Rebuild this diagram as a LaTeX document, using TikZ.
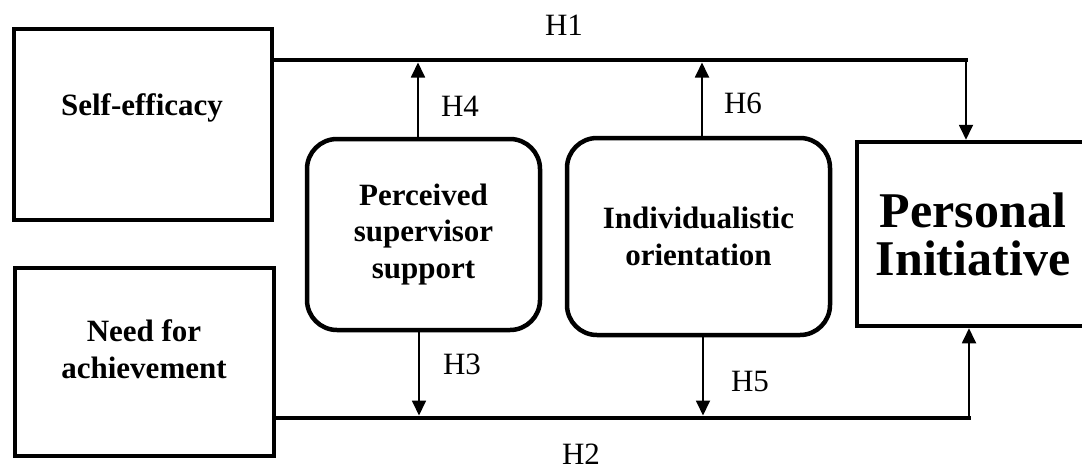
\documentclass[tikz,border=0pt]{standalone}
\usepackage{fontspec}
\setmainfont{Liberation Serif}
\usetikzlibrary{arrows.meta,calc}
\begin{document}
\begin{tikzpicture}[x=1pt,y=-1pt,
  boxsq/.style={draw,line width=4.5pt,rectangle,inner sep=0pt},
  boxrd/.style={draw,line width=4.5pt,rectangle,rounded corners=30pt,inner sep=0pt,align=center,
     font=\bfseries\fontsize{31}{36.5}\selectfont},
  lbl/.style={inner sep=0pt,align=center,font=\bfseries\fontsize{31}{37}\selectfont},
  hlab/.style={inner sep=0pt,font=\fontsize{31}{31}\selectfont},
  thickline/.style={line width=4.5pt,line cap=rect},
  arr/.style={line width=1.8pt,-{Triangle[length=15pt,width=14pt]}}]
\useasboundingbox (0,0) rectangle (1082,469);
% boxes
\node[boxsq,minimum width=258pt,minimum height=191pt] (se) at (143,124.5) {};
\node[lbl] (set) at (142,108) {Self-efficacy};
\node[boxsq,minimum width=259pt,minimum height=188pt] (na) at (144.5,362) {};
\node[lbl] (nat) at (144,349) {Need for\\achievement};
\node[boxrd,minimum width=233pt,minimum height=191pt] (pss) at (423.5,234.5) {Perceived\\supervisor\\support};
\node[boxrd,minimum width=263pt,minimum height=197pt] (io) at (698.5,236.5) {Individualistic\\orientation};
\node[boxsq,minimum width=232pt,minimum height=184pt,align=center,
  font=\bfseries\fontsize{50}{48}\selectfont] (pi) at (973,234) {Personal\\Initiative};
% main paths
\coordinate (topR) at (966,60);
\coordinate (botR) at (969,418);
\draw[thickline] (topR -| se.east) -- (topR);
\draw[arr] (topR) -- (topR |- pi.north);
\draw[thickline] (botR -| na.east) -- (botR);
\draw[arr] (botR) -- (botR |- pi.south);
% moderator arrows
\coordinate (h4) at (418,62.5);
\coordinate (h6) at (702,62.5);
\coordinate (h3) at (419,415.5);
\coordinate (h5) at (703,415.5);
\draw[arr] (h4 |- pss.north) -- (h4);
\draw[arr] (h6 |- io.north) -- (h6);
\draw[arr] (h3 |- pss.south) -- (h3);
\draw[arr] (h5 |- io.south) -- (h5);
% labels
\node[hlab] (l1) at (564,25) {H1};
\node[hlab] (l2) at (581,454) {H2};
\node[hlab] (l3) at (462,364) {H3};
\node[hlab] (l4) at (460,106) {H4};
\node[hlab] (l5) at (750,381) {H5};
\node[hlab] (l6) at (743,103) {H6};
\end{tikzpicture}
\end{document}
